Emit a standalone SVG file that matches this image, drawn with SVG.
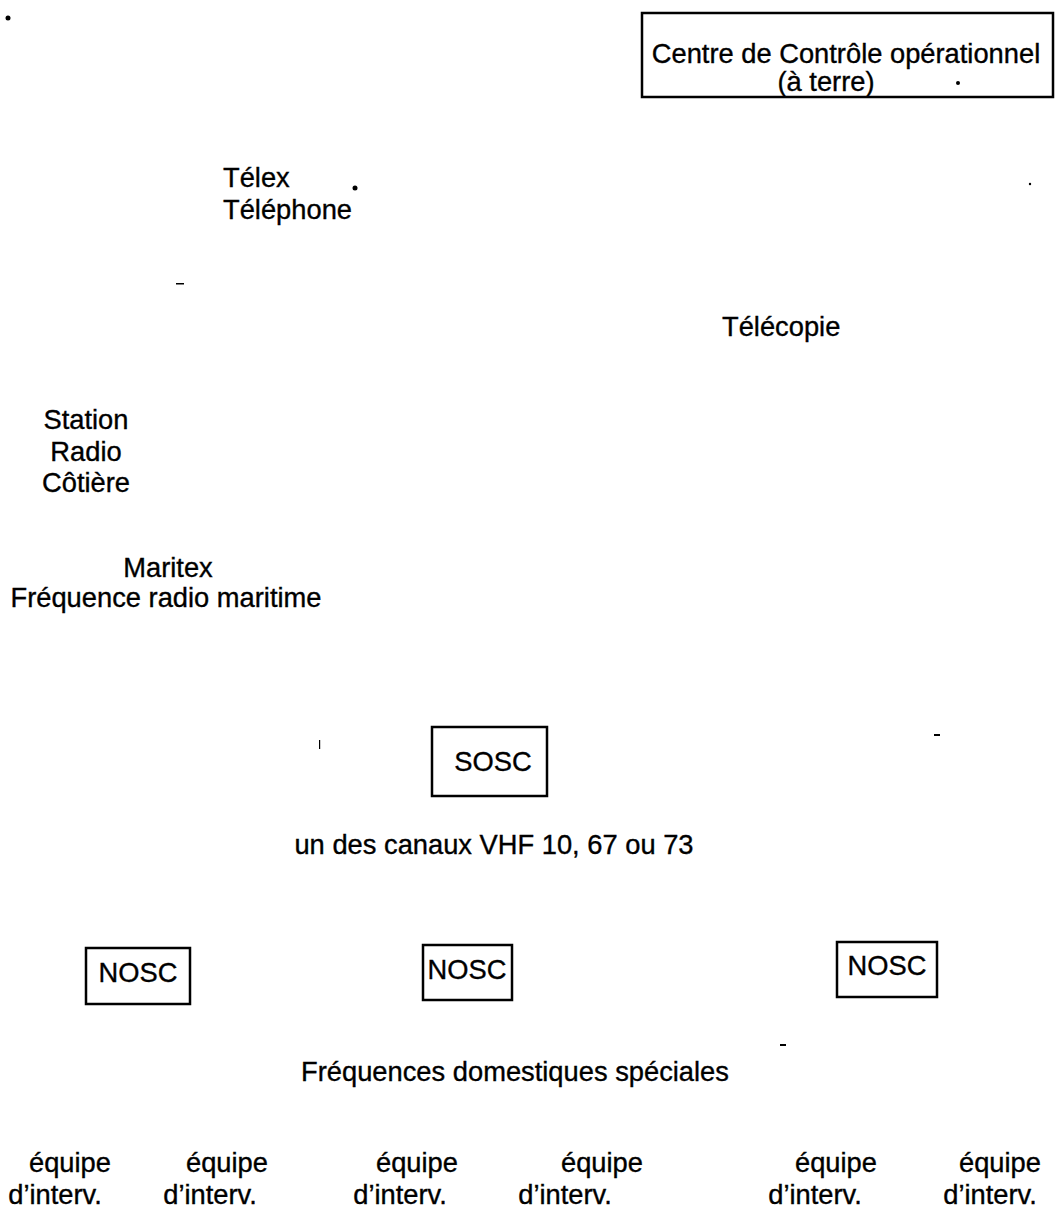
<svg xmlns="http://www.w3.org/2000/svg" width="1055" height="1211" viewBox="0 0 1055 1211">
<style>
  text { font-family: "Liberation Sans", Arial, sans-serif; font-size: 27.3px; fill: #000; stroke: #000; stroke-width: 0.35; }
  .c { text-anchor: middle; }
  .box { fill: #fff; stroke: #000; stroke-width: 2.5; }
  .mark { fill: #000; }
</style>
<rect width="1055" height="1211" fill="#fff"/>
<g id="node-centre">
  <rect class="box" x="642" y="13" width="411" height="84"/>
  <text class="c" x="846" y="63">Centre de Contrôle opérationnel</text>
  <text class="c" x="826" y="91">(à terre)</text>
</g>
<g id="label-telex">
  <text x="223" y="187">Télex</text>
  <text x="223" y="219">Téléphone</text>
</g>
<g id="label-telecopie">
  <text x="722" y="336">Télécopie</text>
</g>
<g id="node-station">
  <text class="c" x="86" y="429">Station</text>
  <text class="c" x="86" y="461">Radio</text>
  <text class="c" x="86" y="492">Côtière</text>
</g>
<g id="label-maritex">
  <text class="c" x="168" y="577">Maritex</text>
  <text class="c" x="166" y="607">Fréquence radio maritime</text>
</g>
<g id="node-sosc">
  <rect class="box" x="432" y="727" width="115" height="69"/>
  <text class="c" x="493" y="771">SOSC</text>
</g>
<g id="label-vhf">
  <text class="c" x="494" y="854">un des canaux VHF 10, 67 ou 73</text>
</g>
<g id="node-nosc1">
  <rect class="box" x="86" y="948" width="104" height="56"/>
  <text class="c" x="138" y="982">NOSC</text>
</g>
<g id="node-nosc2">
  <rect class="box" x="423" y="945" width="89" height="55"/>
  <text class="c" x="467" y="979">NOSC</text>
</g>
<g id="node-nosc3">
  <rect class="box" x="837" y="942" width="100" height="55"/>
  <text class="c" x="887" y="975">NOSC</text>
</g>
<g id="label-domestiques">
  <text class="c" x="515" y="1081">Fréquences domestiques spéciales</text>
</g>
<g id="node-equipe1"><text class="c" x="70" y="1172">équipe</text><text class="c" x="55" y="1204">d’interv.</text></g>
<g id="node-equipe2"><text class="c" x="227" y="1172">équipe</text><text class="c" x="210" y="1204">d’interv.</text></g>
<g id="node-equipe3"><text class="c" x="417" y="1172">équipe</text><text class="c" x="400" y="1204">d’interv.</text></g>
<g id="node-equipe4"><text class="c" x="602" y="1172">équipe</text><text class="c" x="565" y="1204">d’interv.</text></g>
<g id="node-equipe5"><text class="c" x="836" y="1172">équipe</text><text class="c" x="815" y="1204">d’interv.</text></g>
<g id="node-equipe6"><text class="c" x="1000" y="1172">équipe</text><text class="c" x="990" y="1204">d’interv.</text></g>
<g id="connectors"></g>
<g id="scan-marks">
  <circle class="mark" cx="8" cy="18" r="2.5"/>
  <circle class="mark" cx="958" cy="83" r="2"/>
  <circle class="mark" cx="355" cy="188" r="2.5"/>
  <rect class="mark" x="176" y="283" width="8" height="1.5"/>
  <circle class="mark" cx="1030" cy="184" r="1.2"/>
  <rect class="mark" x="319" y="740" width="1.2" height="9"/>
  <rect class="mark" x="934" y="734" width="6" height="2"/>
  <rect class="mark" x="780" y="1044" width="6" height="2"/>
</g>
</svg>
